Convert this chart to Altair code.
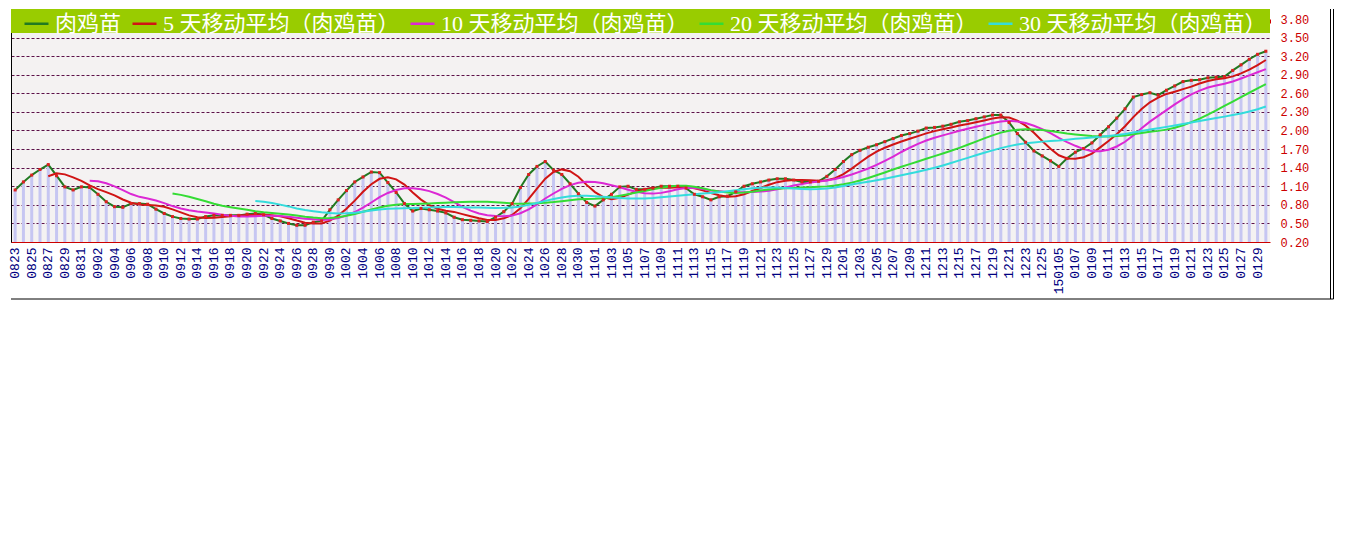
import json
import altair as alt
import pandas as pd

DATES = [
    "0823", "0824", "0825", "0826", "0827", "0828", "0829", "0830", "0831",
    "0901", "0902", "0903", "0904", "0905", "0906", "0907", "0908", "0909", "0910",
    "0911", "0912", "0913", "0914", "0915", "0916", "0917", "0918", "0919", "0920",
    "0921", "0922", "0923", "0924", "0925", "0926", "0927", "0928", "0929", "0930",
    "1001", "1002", "1003", "1004", "1005", "1006", "1007", "1008", "1009", "1010",
    "1011", "1012", "1013", "1014", "1015", "1016", "1017", "1018", "1019", "1020",
    "1021", "1022", "1023", "1024", "1025", "1026", "1027", "1028", "1029", "1030", "1031",
    "1101", "1102", "1103", "1104", "1105", "1106", "1107", "1108", "1109", "1110",
    "1111", "1112", "1113", "1114", "1115", "1116", "1117", "1118", "1119", "1120",
    "1121", "1122", "1123", "1124", "1125", "1126", "1127", "1128", "1129", "1130",
    "1201", "1202", "1203", "1204", "1205", "1206", "1207", "1208", "1209", "1210",
    "1211", "1212", "1213", "1214", "1215", "1216", "1217", "1218", "1219", "1220",
    "1221", "1222", "1223", "1224", "1225", "1226",
    "150105", "0106", "0107", "0108", "0109", "0110", "0111", "0112", "0113", "0114",
    "0115", "0116", "0117", "0118", "0119", "0120", "0121", "0122", "0123", "0124",
    "0125", "0126", "0127", "0128", "0129", "0130",
]

LABELED = [
    "0823", "0825", "0827", "0829", "0831",
    "0902", "0904", "0906", "0908", "0910", "0912", "0914", "0916", "0918", "0920",
    "0922", "0924", "0926", "0928", "0930",
    "1002", "1004", "1006", "1008", "1010", "1012", "1014", "1016", "1018", "1020",
    "1022", "1024", "1026", "1028", "1030",
    "1101", "1103", "1105", "1107", "1109", "1111", "1113", "1115", "1117", "1119",
    "1121", "1123", "1125", "1127", "1129",
    "1201", "1203", "1205", "1207", "1209", "1211", "1213", "1215", "1217", "1219",
    "1221", "1223", "1225",
    "150105", "0107", "0109", "0111", "0113", "0115", "0117", "0119", "0121", "0123",
    "0125", "0127", "0129",
]

PRICE = [
    1.04, 1.17, 1.28, 1.37, 1.45, 1.27, 1.09, 1.04, 1.09,
    1.08, 0.97, 0.85, 0.77, 0.76, 0.82, 0.82, 0.81, 0.73, 0.66,
    0.61, 0.58, 0.57, 0.57, 0.61, 0.63, 0.63, 0.63, 0.63, 0.65,
    0.66, 0.64, 0.58, 0.54, 0.50, 0.47, 0.47, 0.52, 0.54, 0.72,
    0.88, 1.03, 1.17, 1.25, 1.33, 1.32, 1.16, 1.00, 0.82, 0.70,
    0.74, 0.72, 0.70, 0.67, 0.60, 0.56, 0.55, 0.54, 0.53, 0.60,
    0.69, 0.82, 1.08, 1.29, 1.42, 1.50, 1.36, 1.29, 1.14, 0.98, 0.84,
    0.78, 0.88, 0.97, 1.09, 1.10, 1.05, 1.05, 1.07, 1.10, 1.10,
    1.10, 1.07, 0.97, 0.93, 0.88, 0.93, 0.94, 1.01, 1.10, 1.14,
    1.17, 1.20, 1.22, 1.22, 1.20, 1.17, 1.17, 1.18, 1.26, 1.37,
    1.50, 1.61, 1.68, 1.73, 1.77, 1.82, 1.87, 1.92, 1.95, 1.99,
    2.04, 2.05, 2.07, 2.10, 2.14, 2.16, 2.19, 2.22, 2.25, 2.25,
    2.13, 1.95, 1.81, 1.67, 1.59, 1.51,
    1.42, 1.55, 1.65, 1.71, 1.80, 1.93, 2.06, 2.20, 2.35, 2.54,
    2.58, 2.61, 2.57, 2.65, 2.72, 2.79, 2.81, 2.82, 2.85, 2.86,
    2.87, 2.97, 3.06, 3.15, 3.23, 3.28,
]

Y_TICKS = [0.20, 0.50, 0.80, 1.10, 1.40, 1.70, 2.00, 2.30, 2.60, 2.90, 3.20, 3.50, 3.80]

SERIES = [
    "肉鸡苗",
    "5 天移动平均（肉鸡苗）",
    "10 天移动平均（肉鸡苗）",
    "20 天移动平均（肉鸡苗）",
    "30 天移动平均（肉鸡苗）",
]
MA_WINDOWS = [5, 10, 20, 30]
COLORS = ["#217a21", "#d01414", "#dc28d4", "#34dc34", "#34dcdc"]

assert len(DATES) == len(PRICE)

W = 1259
H = 223

df = pd.DataFrame({"date": DATES, "idx": list(range(len(DATES))), "price": PRICE})
base = alt.Chart(df)

yscale = alt.Scale(domain=[Y_TICKS[0], Y_TICKS[-1]], nice=False, zero=False)
xscale = alt.Scale(paddingInner=0, paddingOuter=0)

label_expr = "indexof(" + json.dumps(LABELED) + ", datum.value) >= 0 ? datum.value : ''"

x_main = alt.X(
    "date:O", sort=DATES, scale=xscale, title=None,
    axis=alt.Axis(
        labelExpr=label_expr, labelAngle=-90, labelFont="Liberation Mono", labelFontSize=13,
        labelColor="#000080", labelPadding=5, labelOverlap=False, ticks=False,
        domainColor="#cc0000", domainWidth=1, grid=False,
    ),
)
x_ticks = alt.X(
    "date:O", sort=DATES, scale=xscale, title=None,
    axis=alt.Axis(
        labels=False, domain=False, ticks=True, tickBand="extent", tickSize=4,
        tickColor="#cc0000", tickWidth=1, offset=-4, grid=False,
    ),
)
x_none = alt.X("date:O", sort=DATES, scale=xscale, axis=None)

y_left = alt.Y(
    "price:Q", scale=yscale, title=None,
    axis=alt.Axis(
        orient="left", values=Y_TICKS, labels=False, ticks=False, domainColor="#000000",
        grid=True, gridColor="#5c1048", gridDash=[3, 2], gridWidth=1,
    ),
)
y_right = alt.Y(
    "price:Q", scale=yscale, title=None,
    axis=alt.Axis(
        orient="right", values=Y_TICKS, format=".2f", labelFont="Liberation Mono",
        labelFontSize=12, labelColor="#cc0000", labelPadding=10, ticks=False,
        domain=False, grid=False,
    ),
)

bars = base.mark_bar(size=3, color="#c6c6f2").encode(
    x=x_main, y=y_left, y2=alt.datum(Y_TICKS[0])
)

lines_src = base
for n in MA_WINDOWS:
    lines_src = lines_src.transform_window(
        sort=[alt.SortField("idx")], frame=[-(n - 1), 0],
        **{f"m{n}": "mean(price)", f"c{n}": "count()"},
    )
calc = {SERIES[0]: "datum.price"}
for name, n in zip(SERIES[1:], MA_WINDOWS):
    calc[name] = f"datum.c{n} >= {n} ? datum.m{n} : null"
lines_src = (
    lines_src.transform_calculate(**calc)
    .transform_fold(SERIES, as_=["series", "val"])
    .transform_filter("isValid(datum.val)")
)

lines = lines_src.mark_line(strokeWidth=2).encode(
    x=x_none,
    y=alt.Y("val:Q", scale=yscale, axis=None),
    color=alt.Color(
        "series:N", sort=SERIES,
        scale=alt.Scale(domain=SERIES, range=COLORS),
        legend=alt.Legend(
            title=None, orient="none", legendX=12, legendY=-9, direction="horizontal",
            columns=5, symbolType="stroke", symbolSize=576, symbolStrokeWidth=2.5,
            labelColor="#ffffff", labelFont="Liberation Serif, Noto Sans CJK SC",
            labelFontSize=22, labelLimit=400, columnPadding=5, labelOffset=5,
            padding=0, rowPadding=0,
        ),
    ),
)

dots = base.mark_square(size=9, color="#dd2020", opacity=1).encode(x=x_ticks, y=y_right)

deco = alt.Chart(pd.DataFrame({"k": [0]}))
band = deco.mark_rect(color="#99cc00").encode(
    x=alt.value(0), x2=alt.value(W), y=alt.value(-10), y2=alt.value(14)
)
frame_r1 = deco.mark_rule(color="#000000", strokeWidth=1).encode(
    x=alt.value(1319.5), y=alt.value(-10), y2=alt.value(280)
)
frame_r2 = deco.mark_rule(color="#000000", strokeWidth=1).encode(
    x=alt.value(1322.5), y=alt.value(-10), y2=alt.value(280)
)
frame_b = deco.mark_rule(color="#000000", strokeWidth=1).encode(
    x=alt.value(0), x2=alt.value(1322.5), y=alt.value(280)
)

chart = (
    alt.layer(bars, band, lines, dots, frame_r1, frame_r2, frame_b)
    .resolve_axis(x="independent", y="independent")
    .properties(width=W, height=H, padding={"left": 0, "top": 0, "right": 0, "bottom": 0},
                background="#ffffff")
    .configure_view(stroke=None, fill="#f4f2f2")
)

chart.save("out.html", embed_options={"renderer": "svg", "actions": False})
